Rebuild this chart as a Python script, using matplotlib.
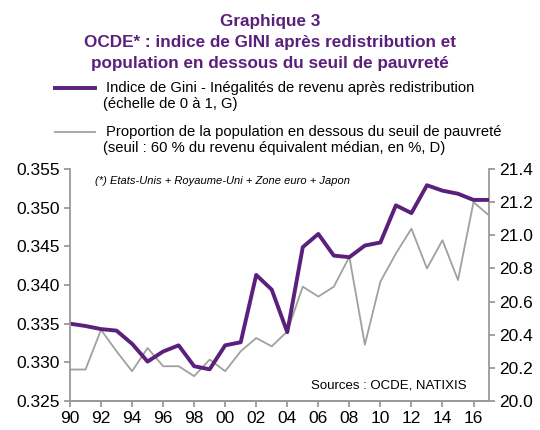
import numpy as np
import matplotlib.pyplot as plt

plt.rcParams['font.family'] = ['Liberation Sans', 'DejaVu Sans']

# Données
annees = list(range(1990, 2018))
gini = [0.3350, 0.3347, 0.3343, 0.3341, 0.3324, 0.3301, 0.3314, 0.3322, 0.3295, 0.3291,
        0.3322, 0.3326, 0.3413, 0.3394, 0.3339, 0.3449, 0.3466, 0.3438, 0.3436, 0.3451,
        0.3455, 0.3503, 0.3493, 0.3529, 0.3522, 0.3518, 0.3510, 0.3510]
pauvrete = [20.19, 20.19, 20.43, 20.30, 20.18, 20.32, 20.21, 20.21, 20.15, 20.25,
            20.18, 20.30, 20.38, 20.33, 20.42, 20.69, 20.63, 20.69, 20.87, 20.34,
            20.72, 20.89, 21.04, 20.80, 20.97, 20.73, 21.20, 21.12]
ticks_x = list(range(1990, 2018, 2))
labels_x = ["%02d" % (a % 100) for a in ticks_x]

violet = '#5b1f7c'
gris = '#a0a0a0'
axe = '#9a9a9a'

fig = plt.figure(figsize=(5.4, 4.3), dpi=100)
ax = fig.add_axes([0.1296, 0.0674, 0.776, 0.5396])
ax2 = ax.twinx()

ax2.plot(annees, pauvrete, color=gris, lw=1.3)
ax.plot(annees, gini, color=violet, lw=2.8)
ax.set_zorder(ax2.get_zorder() + 1)
ax.patch.set_visible(False)

ax.set_xlim(1990, 2017)
ax.set_ylim(0.325, 0.355)
ax.set_yticks(np.arange(0.325, 0.3551, 0.005))
ax.set_yticklabels(["%.3f" % v for v in np.arange(0.325, 0.3551, 0.005)])
ax2.set_ylim(20.0, 21.4)
ax2.set_yticks(np.arange(20.0, 21.41, 0.2))
ax2.set_yticklabels(["%.1f" % v for v in np.arange(20.0, 21.41, 0.2)])
ax.set_xticks(ticks_x)
ax.set_xticklabels(labels_x)

for a in (ax, ax2):
    a.spines['top'].set_visible(False)
    for s in ('left', 'right', 'bottom'):
        a.spines[s].set_color(axe)
        a.spines[s].set_linewidth(1.3)
    a.tick_params(colors=axe, labelcolor='black', labelsize=12.5, length=4, width=1.3)
ax.tick_params(axis='x', pad=3)
ax2.spines['left'].set_visible(False)
ax.spines['right'].set_visible(False)

# Titre
fig.text(0.5, 0.951, "Graphique 3", ha='center', va='center', fontsize=12.3,
         fontweight='bold', color=violet)
fig.text(0.5, 0.902, "OCDE* : indice de GINI après redistribution et", ha='center',
         va='center', fontsize=12.3, fontweight='bold', color=violet)
fig.text(0.5, 0.853, "population en dessous du seuil de pauvreté", ha='center',
         va='center', fontsize=12.3, fontweight='bold', color=violet)

# Légende
fig.add_artist(plt.Line2D([55 / 540, 95 / 540], [1 - 88 / 430] * 2, color=violet, lw=2.8))
fig.add_artist(plt.Line2D([55 / 540, 95 / 540], [1 - 132 / 430] * 2, color=gris, lw=1.3))
fig.text(106 / 540, 1 - 88 / 430, "Indice de Gini - Inégalités de revenu après redistribution",
         va='center', fontsize=10.6)
fig.text(103 / 540, 1 - 104 / 430, "(échelle de 0 à 1, G)", va='center', fontsize=10.6)
fig.text(106 / 540, 1 - 132 / 430, "Proportion de la population en dessous du seuil de pauvreté",
         va='center', fontsize=10.6)
fig.text(103 / 540, 1 - 148 / 430, "(seuil : 60 % du revenu équivalent médian, en %, D)",
         va='center', fontsize=10.6)

ax.text(0.06, 0.948, "(*) Etats-Unis + Royaume-Uni + Zone euro + Japon", transform=ax.transAxes,
        fontsize=8, style='italic', va='center', ha='left')
ax.text(0.575, 0.068, "Sources : OCDE, NATIXIS", transform=ax.transAxes, fontsize=9.5,
        va='center', ha='left')

fig.savefig("out.png", dpi=100)
